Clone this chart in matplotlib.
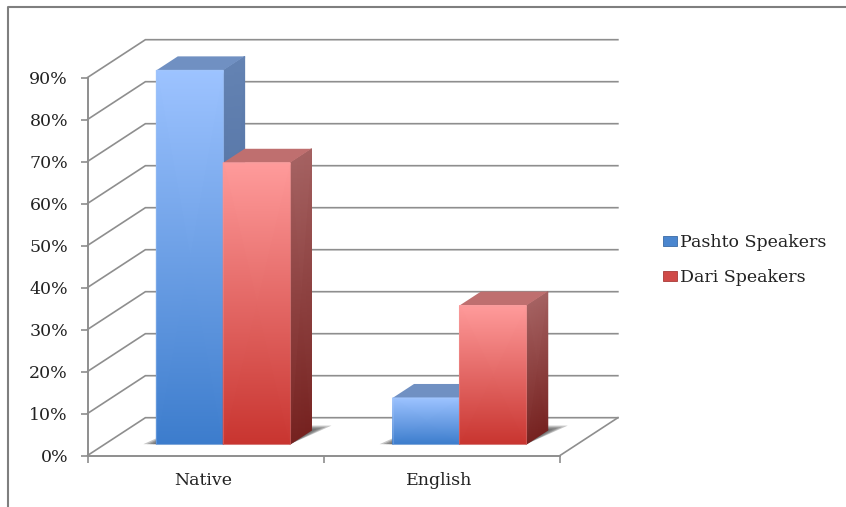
import matplotlib
matplotlib.use('Agg')
import matplotlib.pyplot as plt
from matplotlib.colors import LinearSegmentedColormap
from matplotlib.lines import Line2D
from matplotlib.patches import Patch, Polygon
import numpy as np

categories = ['Native', 'English']
series_names = ['Pashto Speakers', 'Dari Speakers']
pashto = [89, 11]
dari = [67, 33]
y_ticks = [0, 10, 20, 30, 40, 50, 60, 70, 80, 90]
y_labels = ['0%', '10%', '20%', '30%', '40%', '50%', '60%', '70%', '80%', '90%']

plt.rcParams['font.family'] = ['DejaVu Serif', 'Liberation Serif']

# size of the 3d box, in data units
DEPTH_X = 0.245
DEPTH_Y = 9.0
BAR_W = 0.283
D0, D1 = 0.30, 0.67
GRID = '#8e8e8e'
TEXT = '#222222'

front_cmaps = [LinearSegmentedColormap.from_list('b', ['#3c7ccc', '#9dc3ff']),
               LinearSegmentedColormap.from_list('r', ['#c8342f', '#ff9b9b'])]
side_cmaps = [LinearSegmentedColormap.from_list('bs', ['#3f5f90', '#6483b3']),
              LinearSegmentedColormap.from_list('rs', ['#762220', '#a56262'])]
top_colors = ['#7090c2', '#bf6f6f']
edge_colors = ['#a9c8f5', '#f0a0a0']
legend_colors = ['#4a86cf', '#d04a48']
legend_edges = ['#3a6aa5', '#a83a38']


def proj(x, y, d):
    return x + d * DEPTH_X, y + d * DEPTH_Y


def face(ax, xs, ys, cmap, z):
    # gradient on a four sided face, first two points at the bottom
    X = np.array([[xs[0], xs[1]], [xs[3], xs[2]]])
    Y = np.array([[ys[0], ys[1]], [ys[3], ys[2]]])
    C = np.array([[0.0, 0.0], [1.0, 1.0]])
    ax.pcolormesh(X, Y, C, shading='gouraud', cmap=cmap, vmin=0, vmax=1,
                  clip_on=False, zorder=z)


def draw_bar(ax, x0, value, i, z):
    x1 = x0 + BAR_W
    a = proj(x0, 0, D0)
    b = proj(x1, 0, D0)
    c = proj(x1, 0, D1)
    h = value
    face(ax, [a[0], b[0], b[0], a[0]], [a[1], b[1], b[1] + h, a[1] + h], front_cmaps[i], z + 1)
    face(ax, [b[0], c[0], c[0], b[0]], [b[1], c[1], c[1] + h, b[1] + h], side_cmaps[i], z)
    d = proj(x0, 0, D1)
    ax.add_patch(Polygon([(a[0], a[1] + h), (b[0], b[1] + h), (c[0], c[1] + h), (d[0], d[1] + h)],
                         closed=True, fc=top_colors[i], ec='none', clip_on=False, zorder=z))
    # soft light rim on the front face
    ax.add_patch(Polygon([(a[0], a[1]), (b[0], b[1]), (b[0], b[1] + h), (a[0], a[1] + h)],
                         closed=True, fc='none', ec=edge_colors[i], lw=0.8, alpha=0.3,
                         clip_on=False, zorder=z + 1.5))


def draw_shadow(ax, x0, x1):
    # a few stacked polygons so the outer edge fades
    for grow in [0.055, 0.04, 0.028, 0.015, 0.005]:
        a = proj(x0 - grow, 0, D0)
        b = proj(x1, 0, D0)
        c = proj(x1 + grow, 0, D1 + grow * 2.2)
        d = proj(x0, 0, D1 + grow * 2.2)
        ax.add_patch(Polygon([a, b, c, d], closed=True, fc='#555555', ec='none', alpha=0.33,
                             clip_on=False, zorder=3))


fig = plt.figure(figsize=(8.46, 5.07), dpi=100)
ax = fig.add_axes([87.5 / 846, (507 - 455.5) / 507, (560 - 87.5) / 846, (455.5 - 77.5) / 507])

# walls and floor
for v in y_ticks:
    bx, by = proj(0, v, 1)
    ex, ey = proj(2, v, 1)
    ax.plot([0, bx, ex], [v, by, ey], color=GRID, lw=1.2, clip_on=False, zorder=1,
            solid_joinstyle='miter')
ax.plot([2, proj(2, 0, 1)[0]], [0, proj(2, 0, 1)[1]], color=GRID, lw=1.2, clip_on=False, zorder=1)

# bars, front group first
for k in range(len(categories)):
    x0 = k + 0.501 - BAR_W
    draw_shadow(ax, x0, x0 + 2 * BAR_W)
    draw_bar(ax, x0, pashto[k], 0, 4 + k * 4)
    draw_bar(ax, x0 + BAR_W, dari[k], 1, 6 + k * 4)

ax.set_xlim(0, 2)
ax.set_ylim(0, 90)
ax.patch.set_visible(False)
for s in ['top', 'right']:
    ax.spines[s].set_visible(False)
for s in ['left', 'bottom']:
    ax.spines[s].set_color(GRID)
    ax.spines[s].set_linewidth(1.4)

ax.set_yticks(y_ticks)
ax.set_yticklabels(y_labels)
ax.set_xticks([0, 1, 2])
ax.set_xticklabels([])
ax.set_xticks([0.49, 1.49], minor=True)
ax.set_xticklabels(categories, minor=True)
ax.tick_params(axis='y', length=5, width=1.2, color=GRID, labelsize=12.5, labelcolor=TEXT, pad=9)
ax.tick_params(axis='x', which='major', length=5, width=1.2, color=GRID)
ax.tick_params(axis='x', which='minor', length=0, labelsize=12.5, labelcolor=TEXT, pad=12)

handles = [Patch(fc=legend_colors[i], ec=legend_edges[i], lw=0.6, label=series_names[i]) for i in range(2)]
fig.legend(handles=handles, loc='center left', bbox_to_anchor=(663 / 846, 1 - 260 / 507), frameon=False,
           fontsize=12.5, labelcolor=TEXT, handlelength=0.78, handleheight=0.5, handletextpad=0.2,
           labelspacing=1.05, borderpad=0, borderaxespad=0)

# outer frame of the picture
fig.add_artist(Line2D([7.5 / 846, 7.5 / 846, 1], [0, 1 - 7 / 507, 1 - 7 / 507], color='#7f7f7f', lw=1.5))

fig.savefig('out.png', dpi=100)
